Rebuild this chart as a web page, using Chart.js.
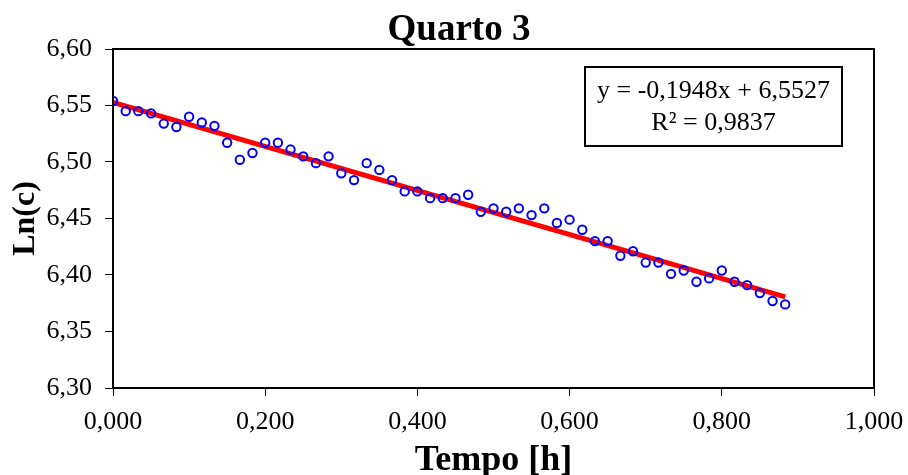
<!DOCTYPE html>
<html>
<head>
<meta charset="utf-8">
<script src="https://cdn.jsdelivr.net/npm/chart.js@4/dist/chart.umd.min.js"></script>
<style>
  html, body { margin: 0; padding: 0; background: #ffffff; }
  #wrap { width: 908px; height: 475px; }
</style>
</head>
<body>
<div id="wrap"><canvas id="c" width="908" height="475"></canvas></div>
<script>
// ---- data ----
const chartTitle = "Quarto 3";
const xAxisTitle = "Tempo [h]";
const yAxisTitle = "Ln(c)";
const timeHours = [0.0000, 0.0167, 0.0333, 0.0500, 0.0667, 0.0833, 0.1000, 0.1167, 0.1333, 0.1500,
                   0.1667, 0.1833, 0.2000, 0.2167, 0.2333, 0.2500, 0.2667, 0.2833, 0.3000, 0.3167,
                   0.3333, 0.3500, 0.3667, 0.3833, 0.4000, 0.4167, 0.4333, 0.4500, 0.4667, 0.4833,
                   0.5000, 0.5167, 0.5333, 0.5500, 0.5667, 0.5833, 0.6000, 0.6167, 0.6333, 0.6500,
                   0.6667, 0.6833, 0.7000, 0.7167, 0.7333, 0.7500, 0.7667, 0.7833, 0.8000, 0.8167,
                   0.8333, 0.8500, 0.8667, 0.8833];
const lnC = [6.554, 6.545, 6.545, 6.543, 6.534, 6.531, 6.540, 6.535, 6.532, 6.517,
             6.502, 6.508, 6.517, 6.517, 6.511, 6.505, 6.499, 6.505, 6.490, 6.484,
             6.499, 6.493, 6.484, 6.474, 6.474, 6.468, 6.468, 6.468, 6.471, 6.456,
             6.459, 6.456, 6.459, 6.453, 6.459, 6.446, 6.449, 6.440, 6.430, 6.430,
             6.417, 6.421, 6.411, 6.411, 6.401, 6.404, 6.394, 6.397, 6.404, 6.394,
             6.391, 6.384, 6.377, 6.374];
const trendX = [0.0000, 0.8833];
const trendY = [6.5527, 6.3806];
const equationLines = ["y = -0,1948x + 6,5527", "R\u00B2 = 0,9837"];
const xTicksRange = [0, 1, 0.2];
const yTicksRange = [6.30, 6.60, 0.05];

// ---- chart ----
const FONT = "'Liberation Serif', 'Times New Roman', Times, serif";

const pointsData = timeHours.map((x, i) => ({ x: x, y: lnC[i] }));
const trendData = trendX.map((x, i) => ({ x: x, y: trendY[i] }));

const titleFrameAndBox = {
  id: 'titleFrameAndBox',
  afterDatasetsDraw(chart) {
    const ctx = chart.ctx;
    const a = chart.chartArea;
    ctx.save();
    // plot frame
    ctx.strokeStyle = '#000';
    ctx.lineWidth = 2;
    ctx.strokeRect(a.left, a.top, a.right - a.left, a.bottom - a.top);
    // equation box
    const bx = 585, by = 67, bw = 257, bh = 79;
    ctx.fillStyle = '#fff';
    ctx.fillRect(bx, by, bw, bh);
    ctx.strokeRect(bx, by, bw, bh);
    ctx.fillStyle = '#000';
    ctx.font = "26px " + FONT;
    ctx.textAlign = 'center';
    ctx.textBaseline = 'alphabetic';
    ctx.fillText(equationLines[0], bx + bw / 2, 98);
    ctx.fillText(equationLines[1], bx + bw / 2, 130);
    // chart title
    ctx.font = "bold 37px " + FONT;
    ctx.fillText(chartTitle, 459, 40);
    ctx.restore();
  }
};

new Chart(document.getElementById('c'), {
  type: 'scatter',
  data: {
    datasets: [
      {
        label: 'Ln(c)',
        data: pointsData,
        order: 0,
        showLine: false,
        pointStyle: 'circle',
        pointRadius: 4.2,
        pointBorderWidth: 2,
        pointBorderColor: '#0000FF',
        pointBackgroundColor: 'rgba(0,0,0,0)',
        pointHoverRadius: 4
      },
      {
        label: 'Linear',
        data: trendData,
        order: 1,
        showLine: true,
        borderColor: '#FF0000',
        borderWidth: 5,
        pointRadius: 0,
        pointHoverRadius: 0,
        fill: false
      }
    ]
  },
  options: {
    responsive: false,
    animation: false,
    layout: { padding: { left: 0, right: 34, top: 49, bottom: 0 } },
    plugins: {
      legend: { display: false },
      tooltip: { enabled: false },
      title: { display: false }
    },
    scales: {
      x: {
        type: 'linear',
        min: xTicksRange[0],
        max: xTicksRange[1],
        afterFit(scale) { scale.height = 87; scale.paddingLeft = 0; scale.paddingRight = 0; },
        ticks: {
          stepSize: xTicksRange[2],
          color: '#000',
          padding: 11,
          maxRotation: 0,
          font: { family: FONT, size: 26 },
          callback: (v) => v.toFixed(3).replace('.', ',')
        },
        grid: { drawOnChartArea: false, drawTicks: true, tickLength: 8, color: '#000', lineWidth: 1 },
        border: { display: true, color: '#000', width: 2 },
        title: {
          display: true,
          text: xAxisTitle,
          color: '#000',
          font: { family: FONT, size: 36, weight: 'bold', lineHeight: 0.78 },
          padding: { top: 0, bottom: 0 }
        }
      },
      y: {
        type: 'linear',
        min: yTicksRange[0],
        max: yTicksRange[1],
        afterFit(scale) { scale.width = 113; scale.paddingTop = 0; scale.paddingBottom = 0; },
        ticks: {
          stepSize: yTicksRange[2],
          color: '#000',
          padding: 13,
          font: { family: FONT, size: 26 },
          callback: (v) => v.toFixed(2).replace('.', ',')
        },
        grid: { drawOnChartArea: false, drawTicks: true, tickLength: 8, color: '#000', lineWidth: 1 },
        border: { display: true, color: '#000', width: 2 },
        title: {
          display: true,
          text: yAxisTitle,
          color: '#000',
          font: { family: FONT, size: 32, weight: 'bold', lineHeight: 1.2 },
          padding: { top: 7, bottom: 0 }
        }
      }
    }
  },
  plugins: [titleFrameAndBox]
});
</script>
</body>
</html>
